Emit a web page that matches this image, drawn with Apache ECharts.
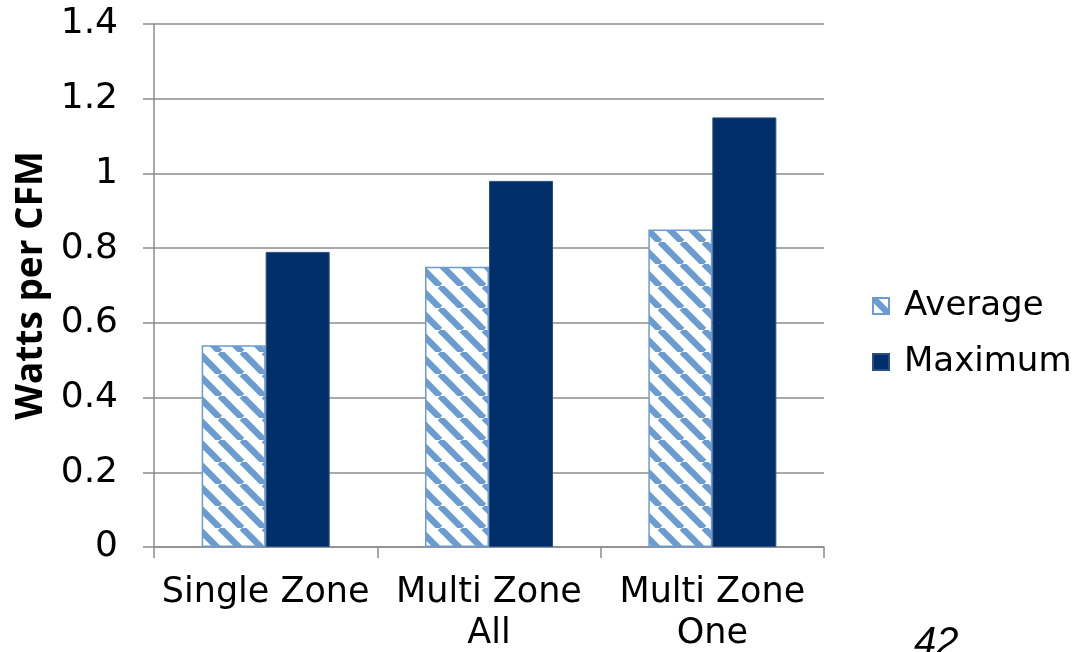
<!DOCTYPE html>
<html>
<head>
<meta charset="utf-8">
<script src="https://cdn.jsdelivr.net/npm/echarts@6/dist/echarts.min.js"></script>
<style>
  html, body { margin: 0; padding: 0; background: #fff; }
  #chart { width: 1090px; height: 652px; }
</style>
</head>
<body>
<div id="chart"></div>
<script>
// Fan power by zoning configuration
const categories = ['Single Zone', 'Multi Zone\nAll', 'Multi Zone\nOne'];
const averageValues = [0.54, 0.75, 0.85];
const maximumValues = [0.79, 0.98, 1.15];
const yTicks = [0, 0.2, 0.4, 0.6, 0.8, 1, 1.2, 1.4];
const pageNumber = '42';

const STRIPE = '#6A9BD1';
const NAVY = '#002F6A';
const FONT = 'DejaVu Sans';

// Diagonal hatch tile for the "Average" bars
function makeHatch() {
  const p = 22;
  const c = document.createElement('canvas');
  c.width = p; c.height = p;
  const ctx = c.getContext('2d');
  ctx.fillStyle = '#ffffff';
  ctx.fillRect(0, 0, p, p);
  ctx.strokeStyle = STRIPE;
  ctx.lineWidth = 6.5;
  for (let k = -1; k <= 1; k++) {
    ctx.beginPath();
    ctx.moveTo(k * p, 0);
    ctx.lineTo(k * p + p, p);
    ctx.stroke();
  }
  return c;
}

const chart = echarts.init(document.getElementById('chart'));
chart.setOption({
  animation: false,
  backgroundColor: '#ffffff',
  grid: { left: 154, right: 266, top: 24, bottom: 105, containLabel: false, outerBoundsMode: 'none' },
  legend: {
    orient: 'vertical',
    left: 867,
    top: 284,
    icon: 'rect',
    itemWidth: 16,
    itemHeight: 16,
    itemGap: 22,
    textStyle: { fontFamily: FONT, fontSize: 34, color: '#000', padding: [0, 0, 0, 10] },
    data: ['Average', 'Maximum']
  },
  xAxis: {
    type: 'category',
    data: categories,
    axisLine: { lineStyle: { color: '#8c8c8c', width: 1.5 } },
    axisTick: { show: true, length: 11, lineStyle: { color: '#8c8c8c', width: 1.5 } },
    axisLabel: {
      color: '#000', fontFamily: FONT, fontSize: 35, margin: 25, lineHeight: 41,
      interval: 0
    }
  },
  yAxis: {
    type: 'value',
    min: yTicks[0],
    max: yTicks[yTicks.length - 1],
    interval: 0.2,
    name: 'Watts per CFM',
    nameLocation: 'middle',
    nameGap: 100,
    nameTextStyle: { fontFamily: 'Open Sans', fontWeight: 'bold', fontSize: 37, color: '#000' },
    axisLine: { show: true, lineStyle: { color: '#8c8c8c', width: 1.5 } },
    axisTick: { show: true, length: 11, lineStyle: { color: '#8c8c8c', width: 1.5 } },
    splitLine: { show: true, lineStyle: { color: '#8c8c8c', width: 1.5 } },
    axisLabel: {
      color: '#000', fontFamily: FONT, fontSize: 36, margin: 36,
      formatter: v => String(Math.round(v * 10) / 10)
    }
  },
  series: [
    {
      name: 'Average',
      type: 'bar',
      data: averageValues,
      barWidth: 64,
      barGap: '0%',
      itemStyle: {
        color: { image: makeHatch(), repeat: 'repeat' },
        borderColor: STRIPE,
        borderWidth: 1.5
      }
    },
    {
      name: 'Maximum',
      type: 'bar',
      data: maximumValues,
      barWidth: 64,
      barGap: '0%',
      itemStyle: { color: NAVY, borderColor: '#2b4f85', borderWidth: 1 }
    }
  ],
  graphic: [
    {
      type: 'text',
      left: 914,
      top: 624,
      style: {
        text: pageNumber,
        font: 'italic 40px "Liberation Sans", Arial, sans-serif',
        fill: '#000'
      }
    }
  ]
});
</script>
</body>
</html>
